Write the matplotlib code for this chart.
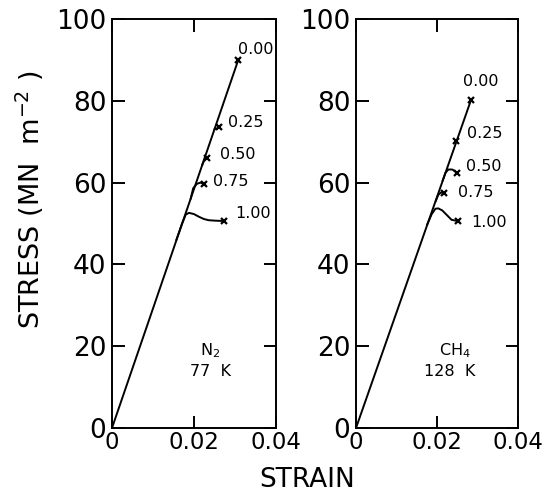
import matplotlib
matplotlib.use("Agg")
import matplotlib.pyplot as plt

# ---- data ----
fractions = ["0.00", "0.25", "0.50", "0.75", "1.00"]

# N2, 77 K
n2_main_strain = [0.0, 0.0308]
n2_main_stress = [0.0, 90.0]
n2_curves = {
    "0.00": ([0.0308], [90.0]),
    "0.25": ([0.0250, 0.0262], [73.0, 73.5]),
    "0.50": ([0.0220, 0.0226, 0.0231], [64.3, 65.7, 66.1]),
    "0.75": ([0.0192, 0.0198, 0.0207, 0.0216, 0.0224], [56.1, 58.6, 59.7, 60.0, 59.6]),
    "1.00": ([0.0157, 0.0171, 0.0180, 0.0188, 0.0200, 0.0211, 0.0224, 0.0236, 0.0251, 0.0274],
             [46.0, 50.0, 52.2, 52.6, 52.3, 51.7, 51.1, 50.8, 50.7, 50.6]),
}
n2_label_offsets = {"0.00": (0, 10), "0.25": (9, 5), "0.50": (13, 3), "0.75": (9, 3), "1.00": (11, 8)}

# CH4, 128 K
ch4_main_strain = [0.0, 0.0284]
ch4_main_stress = [0.0, 80.2]
ch4_curves = {
    "0.00": ([0.0284], [80.2]),
    "0.25": ([0.0247], [70.2]),
    "0.50": ([0.0214, 0.0221, 0.0228, 0.0238, 0.0249], [60.5, 62.4, 63.2, 63.2, 62.4]),
    "0.75": ([0.0197, 0.0203, 0.0210, 0.0218], [55.5, 57.0, 57.6, 57.4]),
    "1.00": ([0.0176, 0.0187, 0.0196, 0.0203, 0.0213, 0.0224, 0.0236, 0.0251],
             [49.8, 52.3, 53.6, 53.7, 53.2, 52.1, 50.9, 50.6]),
}
ch4_label_offsets = {"0.00": (-8, 18), "0.25": (11, 7), "0.50": (9, 6), "0.75": (14, 1), "1.00": (14, -1)}

xticks = [0, 0.02, 0.04]
xticklabels = ["0", "0.02", "0.04"]
yticks = [0, 20, 40, 60, 80, 100]
yticklabels = ["0", "20", "40", "60", "80", "100"]

panels = [
    ("N$_2$", "77  K", n2_main_strain, n2_main_stress, n2_curves, n2_label_offsets, (0.60, 0.60)),
    ("CH$_4$", "128  K", ch4_main_strain, ch4_main_stress, ch4_curves, ch4_label_offsets, (0.61, 0.58)),
]

fig = plt.figure(figsize=(5.45, 4.92), dpi=100)
W, H = 545, 492
rects = [(112, 164), (356, 162)]
y0, y1 = 428, 19

for (gas, temp, ms, mt, curves, offs, tx), (xl, wd) in zip(panels, rects):
    ax = fig.add_axes([xl / W, (H - y0) / H, wd / W, (y0 - y1) / H])
    ax.plot(ms, mt, color="black", lw=1.4, solid_capstyle="round")
    for f in fractions:
        xs, ys = curves[f]
        ax.plot(xs, ys, color="black", lw=1.4)
        ax.plot(xs[-1], ys[-1], marker="x", color="black", ms=5, mew=1.6)
        dx, dy = offs[f]
        ax.annotate(f, (xs[-1], ys[-1]), xytext=(dx * 0.72, dy * 0.72),
                    textcoords="offset points", ha="left", va="center",
                    fontsize=11.5, color="black")
    ax.set_xlim(0, 0.04)
    ax.set_ylim(0, 100)
    ax.set_xticks(xticks)
    ax.set_xticklabels(xticklabels)
    ax.set_yticks(yticks)
    ax.set_yticklabels(yticklabels)
    ax.tick_params(direction="in", length=9, width=1.4, top=True, right=True,
                   labelsize=19, pad=2)
    ax.tick_params(axis="y", pad=4)
    ax.tick_params(axis="x", labelsize=16.5)
    for s in ax.spines.values():
        s.set_linewidth(1.4)
    ax.text(tx[0], 0.19, gas, transform=ax.transAxes, ha="center", va="center", fontsize=11.5)
    ax.text(tx[1], 0.137, temp, transform=ax.transAxes, ha="center", va="center", fontsize=11.5)

fig.text(307 / W, 1 - 480 / H, "STRAIN", ha="center", va="center", fontsize=19)
fig.text(30 / W, 1 - 200 / H, "STRESS (MN  m$^{-2}$ )", ha="center", va="center",
         rotation=90, fontsize=19.5)

fig.savefig("out.png", dpi=100)
